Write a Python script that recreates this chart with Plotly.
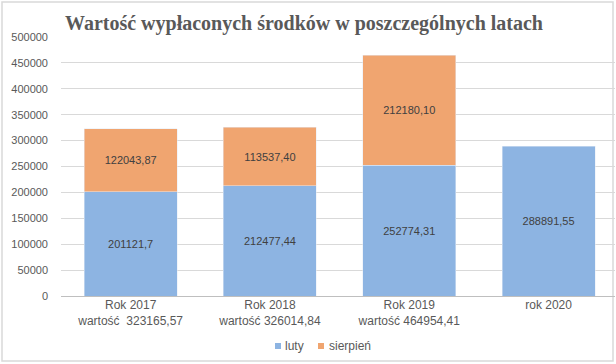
import plotly.graph_objects as go

categories = ["Rok 2017<br>wartość  323165,57", "Rok 2018<br>wartość 326014,84",
              "Rok 2019<br>wartość 464954,41", "rok 2020"]
luty = [201121.7, 212477.44, 252774.31, 288891.55]
luty_labels = ["201121,7", "212477,44", "252774,31", "288891,55"]
sierpien = [122043.87, 113537.40, 212180.10, None]
sierpien_labels = ["122043,87", "113537,40", "212180,10", ""]
y_ticks = [0, 50000, 100000, 150000, 200000, 250000, 300000, 350000, 400000, 450000, 500000]
series_names = ["luty", "sierpień"]
series_colors = ["#8DB4E2", "#F0A570"]

x = list(range(len(categories)))
FONT = "Liberation Sans, Arial, sans-serif"
lab_font = dict(family=FONT, size=11, color="#404040")

# plot area in pixels
L, R, T, B = 61, 615, 37, 296
W, H = R - L, B - T
def px(xp):
    return (xp - L) / W
def py(yp):
    return (B - yp) / H

fig = go.Figure()
fig.add_trace(go.Bar(x=x, y=luty, name=series_names[0], marker_color=series_colors[0], width=0.667,
                     text=luty_labels, textposition="inside", insidetextanchor="middle",
                     textfont=lab_font, hoverinfo="y", showlegend=False))
fig.add_trace(go.Bar(x=x, y=sierpien, name=series_names[1], marker_color=series_colors[1], width=0.667,
                     text=sierpien_labels, textposition="inside", insidetextanchor="middle",
                     textfont=lab_font, hoverinfo="y", showlegend=False))

# custom small-swatch legend (like the original)
legend_items = [(275, 283), (318, 327)]
shapes = [dict(type="rect", xref="paper", yref="paper",
               x0=px(2), x1=px(613), y0=py(361), y1=py(2),
               line=dict(color="#D9D9D9", width=1.5), fillcolor="rgba(0,0,0,0)", layer="below")]
annotations = []
for (mx, tx), name, col in zip(legend_items, series_names, series_colors):
    shapes.append(dict(type="rect", xref="paper", yref="paper",
                       x0=px(mx), x1=px(mx + 6), y0=py(349), y1=py(343),
                       line=dict(width=0), fillcolor=col))
    annotations.append(dict(text=name, xref="paper", yref="paper", x=px(tx), y=py(346),
                            xanchor="left", yanchor="middle", showarrow=False,
                            font=dict(family=FONT, size=12, color="#595959")))

fig.update_layout(
    barmode="stack",
    width=616, height=364,
    margin=dict(l=L, r=616 - R, t=T, b=364 - B),
    paper_bgcolor="white", plot_bgcolor="white",
    title=dict(text="<b>Wartość wypłaconych środków w poszczególnych latach</b>",
               font=dict(family="Liberation Serif, Times New Roman, serif", size=20, color="#595959"),
               x=304 / 616, xanchor="center", xref="container",
               y=1 - 23 / 364, yanchor="middle", yref="container"),
    xaxis=dict(tickmode="array", tickvals=x, ticktext=categories, range=[-0.5, 3.477],
               showgrid=False, zeroline=False, showline=False, ticks="",
               tickfont=dict(family=FONT, size=12, color="#595959")),
    yaxis=dict(range=[0, 500000], tickvals=y_ticks, ticktext=[str(v) for v in y_ticks],
               showgrid=True, gridcolor="#D9D9D9", gridwidth=1, zeroline=True,
               zerolinecolor="#BFBFBF", zerolinewidth=1, ticks="", ticklabelstandoff=12,
               tickfont=dict(family=FONT, size=11, color="#595959")),
    showlegend=False,
    shapes=shapes,
    annotations=annotations,
)

fig.write_html("out.html", config={"displayModeBar": False},
               post_script="document.body.style.margin='0';")
